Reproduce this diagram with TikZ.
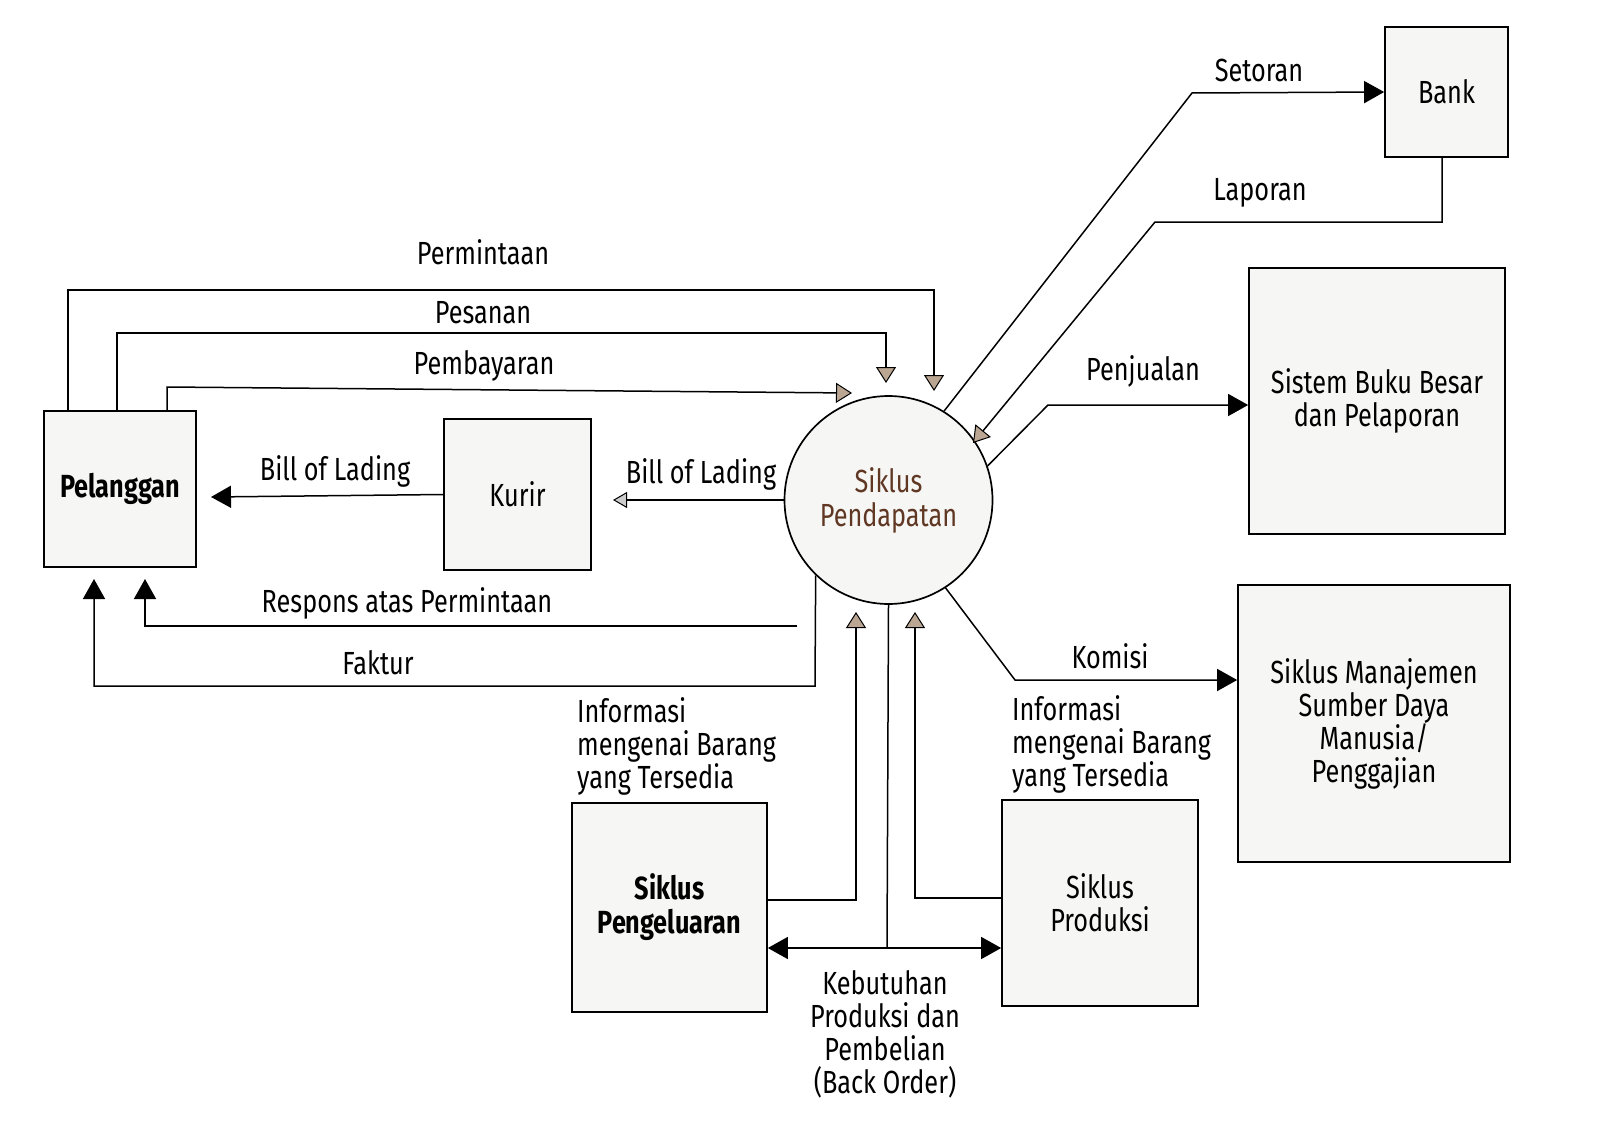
\documentclass[tikz,border=0pt]{standalone}
\usepackage{fontspec}
\setmainfont{Fira Sans}[FakeStretch=0.79]
\usetikzlibrary{arrows.meta}
\definecolor{txtbrown}{RGB}{95,55,35}
\definecolor{boxfill}{RGB}{246,246,244}
\tikzset{
  box/.style={draw, line width=1.7pt, fill=boxfill, inner sep=0pt, align=center, font=\fontsize{32}{33}\selectfont},
  lbl/.style={font=\fontsize{32}{33}\selectfont, inner sep=0pt, align=center},
  flow/.style={line width=1.5pt},
  blk/.style={flow, -{Triangle[length=20pt,width=22pt]}},
  gry/.style={flow, -{Triangle[length=16pt,width=20pt,fill=gray!55!brown!70, line width=1pt]}},
}
\begin{document}
\begin{tikzpicture}[x=1pt,y=-1pt]
\useasboundingbox (0,0) rectangle (1600,1145);
% boxes
\node[box, minimum width=123pt, minimum height=130pt] (bank) at (1446.5,92) {Bank};
\node[box, minimum width=256pt, minimum height=266pt] (buku) at (1377,401) {Sistem Buku Besar\\dan Pelaporan};
\node[box, minimum width=272pt, minimum height=277pt] (sdm) at (1374,723.5) {Siklus Manajemen\\Sumber Daya\\Manusia/\\Penggajian};
\node[box, minimum width=152pt, minimum height=156pt, font=\fontsize{32}{33}\selectfont\bfseries] (pel) at (120,489) {Pelanggan};
\node[box, minimum width=147pt, minimum height=151pt] (kurir) at (517.5,494.5) {Kurir};
\node[box, minimum width=195pt, minimum height=209pt, font=\fontsize{32}{34}\selectfont\bfseries] (peng) at (669.5,907.5) {Siklus\\Pengeluaran};
\node[box, minimum width=196pt, minimum height=206pt] (prod) at (1100,903) {Siklus\\Produksi};
\node[circle, draw, line width=1.7pt, fill=boxfill, minimum size=208pt, inner sep=0pt, align=center, text=txtbrown, font=\fontsize{32}{34}\selectfont] (c) at (888.5,500) {Siklus\\Pendapatan};

% coordinates
\coordinate (pmA) at (68,290);
\coordinate (pmB) at (934,290);
\coordinate (pmT) at (934,391);
\coordinate (psA) at (117,333);
\coordinate (psB) at (886,333);
\coordinate (psT) at (886,383);
\coordinate (pbA) at (167,387);
\coordinate (pbT) at (852,393);
\coordinate (blT) at (613,500);
\coordinate (blP) at (211,497);
\coordinate (rsS) at (797,626);
\coordinate (rsB) at (145,626);
\coordinate (rsT) at (145,579);
\coordinate (fkA) at (815,686);
\coordinate (fkB) at (94,686);
\coordinate (fkT) at (94,579);
\coordinate (stA) at (1192,93);
\coordinate (lpA) at (1442,222);
\coordinate (lpB) at (1155,222);
\coordinate (lpT) at (973,443);
\coordinate (pjA) at (1048,405);
\coordinate (kmA) at (1015,680);
\coordinate (ilA) at (856,900);
\coordinate (ilT) at (856,612);
\coordinate (irA) at (915,898);
\coordinate (irT) at (915,612);
\coordinate (bo) at (887,948);

% connectors to/from Pelanggan
\draw[gry] (pel.north -| pmA) -- (pmA) -- (pmB) -- (pmT);
\draw[gry] (pel.north -| psA) -- (psA) -- (psB) -- (psT);
\draw[gry] (pel.north -| pbA) -- (pbA) -- (pbT);
\draw[flow, -{Triangle[length=14pt,width=16pt,fill=gray!40, line width=1pt]}] (c.west) -- (blT);
\draw[blk] (kurir.west) -- (blP);
\draw[blk] (rsS) -- (rsB) -- (rsT);
\draw[blk] (c.226) -- (fkA) -- (fkB) -- (fkT);
% bank etc
\draw[blk] (c.58.6) -- (stA) -- (bank.west);
\draw[gry] (bank.south -| lpA) -- (lpA) -- (lpB) -- (lpT);
\draw[blk] (c.19) -- (pjA) -- (pjA -| buku.west);
\draw[blk] (c.-57) -- (kmA) -- (kmA -| sdm.west);
% bottom
\draw[gry] (peng.east |- ilA) -- (ilA) -- (ilT);
\draw[gry] (prod.west |- irA) -- (irA) -- (irT);
\draw[flow] (c.south) -- (bo);
\draw[flow, {Triangle[length=20pt,width=22pt]}-{Triangle[length=20pt,width=22pt]}] (peng.east |- bo) -- (prod.west |- bo);

% labels
\node[lbl] (lPermintaan) at (483,252) {Permintaan};
\node[lbl] (lPesanan) at (483,313) {Pesanan};
\node[lbl] (lPembayaran) at (484,366) {Pembayaran};
\node[lbl] (lBL1) at (335,471) {Bill of Lading};
\node[lbl] (lBL2) at (701,474) {Bill of Lading};
\node[lbl] (lResp) at (407,603) {Respons atas Permintaan};
\node[lbl] (lFaktur) at (378,663) {Faktur};
\node[lbl] (lSetoran) at (1259,70) {Setoran};
\node[lbl] (lLaporan) at (1260,193) {Laporan};
\node[lbl] (lPenjualan) at (1143,371) {Penjualan};
\node[lbl] (lKomisi) at (1110,656) {Komisi};
\node[lbl, align=left, anchor=north west] (lInfoL) at (577,697) {Informasi\\mengenai Barang\\yang Tersedia};
\node[lbl, align=left, anchor=north west] (lInfoR) at (1012,695) {Informasi\\mengenai Barang\\yang Tersedia};
\node[lbl, anchor=north] (lKeb) at (885,970) {Kebutuhan\\Produksi dan\\Pembelian\\(Back Order)};
\end{tikzpicture}
\end{document}
